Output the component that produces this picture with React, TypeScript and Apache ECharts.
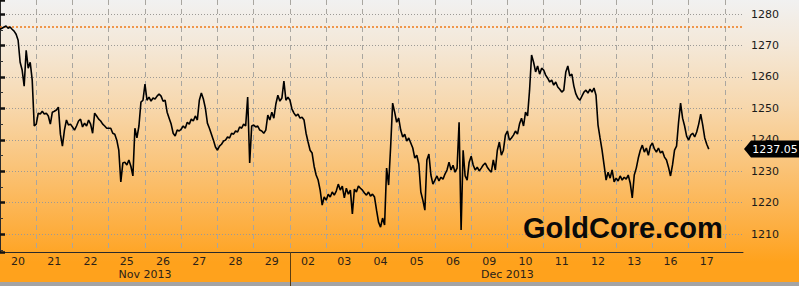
import React, { useEffect, useRef } from 'react';
import * as echarts from 'echarts';

// Trading-day labels along the time axis
const dayLabels = ['20', '21', '22', '25', '26', '27', '28', '29', '02', '03', '04', '05', '06', '09', '10', '11', '12', '13', '16', '17'];
const monthLabels = ['Nov 2013', 'Dec 2013'];
const monthStartDay = [0, 8];
const monthEndDay = [8, 20];

// Gold spot price, 18 samples per trading day
const samplesPerDay = 18;
const prices = [
  // 20 Nov
  1275.2, 1275.5, 1275.9, 1276.2, 1275.5, 1275.9, 1275.2, 1274.6, 1273.6, 1271.7, 1264.7, 1262.2, 1257.1, 1268.5, 1262.8, 1264.7, 1259.0, 1244.4,
  // 21 Nov
  1245.0, 1248.5, 1248.2, 1249.1, 1248.2, 1248.5, 1247.6, 1245.0, 1248.8, 1249.1, 1249.5, 1250.4, 1241.8, 1238.0, 1243.1, 1246.3, 1244.7, 1245.0,
  // 22 Nov
  1244.1, 1243.1, 1244.4, 1246.0, 1246.6, 1244.1, 1245.3, 1244.4, 1246.3, 1245.0, 1242.1, 1248.5, 1247.6, 1246.6, 1246.0, 1245.0, 1244.4, 1243.7,
  // 25 Nov
  1243.7, 1243.7, 1242.1, 1241.8, 1239.9, 1236.7, 1226.6, 1232.6, 1232.9, 1232.0, 1233.6, 1231.6, 1228.5, 1243.7, 1240.6, 1244.4, 1252.0, 1252.6,
  // 26 Nov
  1257.7, 1252.6, 1253.6, 1252.3, 1253.3, 1253.0, 1253.9, 1254.6, 1253.9, 1252.3, 1252.6, 1248.8, 1246.9, 1245.0, 1242.1, 1241.2, 1243.1, 1242.8,
  // 27 Nov
  1243.4, 1244.4, 1243.7, 1245.6, 1245.0, 1246.6, 1246.0, 1247.6, 1246.3, 1252.6, 1254.9, 1253.0, 1250.1, 1245.3, 1243.7, 1241.8, 1239.9, 1237.7,
  // 28 Nov
  1236.7, 1238.0, 1238.6, 1239.6, 1239.9, 1240.9, 1240.6, 1242.1, 1241.8, 1242.8, 1242.5, 1244.1, 1243.7, 1245.0, 1244.4, 1253.6, 1232.6, 1244.4,
  // 29 Nov
  1244.7, 1244.1, 1244.4, 1243.1, 1242.8, 1242.1, 1243.1, 1247.9, 1246.3, 1248.8, 1246.9, 1251.4, 1254.2, 1252.3, 1253.3, 1258.7, 1252.6, 1253.6,
  // 02 Dec
  1252.6, 1249.8, 1248.5, 1247.6, 1248.2, 1246.9, 1247.2, 1246.3, 1242.1, 1239.3, 1236.7, 1235.8, 1231.6, 1228.8, 1227.2, 1224.0, 1219.2, 1221.8,
  // 03 Dec
  1220.8, 1222.7, 1221.8, 1223.4, 1222.4, 1223.7, 1225.9, 1224.0, 1225.3, 1221.5, 1224.6, 1222.7, 1224.0, 1216.4, 1224.3, 1223.4, 1225.3, 1224.6,
  // 04 Dec
  1224.0, 1223.1, 1222.4, 1223.4, 1222.1, 1222.7, 1221.8, 1217.6, 1213.8, 1212.2, 1215.1, 1212.9, 1231.0, 1225.6, 1237.7, 1251.7, 1248.8, 1245.6,
  // 05 Dec
  1246.9, 1243.1, 1240.9, 1241.8, 1239.6, 1240.6, 1239.0, 1237.4, 1234.2, 1235.1, 1232.3, 1223.4, 1220.8, 1217.6, 1233.6, 1235.5, 1228.8, 1225.9,
  // 06 Dec
  1227.2, 1228.5, 1226.9, 1228.1, 1227.5, 1229.1, 1230.4, 1232.9, 1230.4, 1231.9, 1229.7, 1231.0, 1245.6, 1211.3, 1236.7, 1228.5, 1227.2, 1232.9,
  // 09 Dec
  1234.8, 1232.0, 1230.4, 1231.3, 1230.1, 1231.0, 1232.0, 1232.6, 1231.3, 1230.4, 1229.7, 1233.6, 1230.4, 1236.7, 1239.3, 1235.1, 1236.7, 1241.5,
  // 10 Dec
  1242.8, 1239.9, 1240.6, 1241.5, 1242.8, 1241.8, 1245.0, 1246.9, 1244.4, 1248.8, 1247.6, 1255.8, 1267.0, 1264.7, 1261.6, 1263.5, 1260.9, 1262.8,
  // 11 Dec
  1262.2, 1260.6, 1259.6, 1258.4, 1259.0, 1257.4, 1258.4, 1256.8, 1256.1, 1255.2, 1255.8, 1261.6, 1263.5, 1260.3, 1260.9, 1257.1, 1254.6, 1253.3,
  // 12 Dec
  1252.6, 1253.9, 1255.2, 1255.8, 1254.9, 1256.1, 1255.2, 1256.5, 1254.2, 1244.7, 1240.6, 1236.7, 1232.0, 1227.2, 1229.7, 1227.8, 1230.4, 1226.6,
  // 13 Dec
  1227.8, 1226.9, 1228.5, 1227.2, 1228.1, 1227.5, 1228.8, 1226.2, 1221.5, 1228.8, 1231.0, 1234.2, 1236.7, 1238.3, 1236.1, 1237.4, 1235.1, 1238.0,
  // 16 Dec
  1239.0, 1237.1, 1236.1, 1237.4, 1235.8, 1236.4, 1234.5, 1233.6, 1231.3, 1228.5, 1232.0, 1236.7, 1238.0, 1245.6, 1251.7, 1246.9, 1244.4, 1241.2,
  // 17 Dec
  1239.9, 1241.5, 1242.1, 1240.9, 1242.5, 1245.0, 1248.2, 1244.7, 1240.6, 1238.6, 1237.05,
];

const referenceLevel = 1276;
const yMin = 1204.3;
const yMax = 1284.5;
const xMaxDays = 20.5;

const FONT = '"DejaVu Sans", Verdana, sans-serif';

export default function App() {
  const ref = useRef<HTMLDivElement>(null);

  useEffect(() => {
    const chart = echarts.init(ref.current!, null, { renderer: 'svg' });
    const slots = Math.round(xMaxDays * 2) + 1; // half-day slots
    const slotCats = Array.from({ length: slots }, (_, k) => String(k));
    const dayLabelAt = (k: number) => (k % 2 === 1 && (k - 1) / 2 < dayLabels.length ? dayLabels[(k - 1) / 2] : '');
    const monthLabelAt = (k: number) => {
      const m = monthLabels.findIndex((_, j) => monthStartDay[j] + monthEndDay[j] === k);
      return m >= 0 ? monthLabels[m] : '';
    };
    const separatorSlot = monthStartDay[1] * 2;
    const lastPrice = prices[prices.length - 1];

    const option: any = {
      animation: false,
      backgroundColor: 'transparent',
      grid: { left: 0, right: 56, top: 0, bottom: 34, containLabel: false, outerBoundsMode: 'none' },
      xAxis: [
        {
          type: 'value',
          min: 0,
          max: xMaxDays,
          interval: 1,
          axisLine: { show: true, lineStyle: { color: '#2a2a2a', width: 1 } },
          axisTick: { show: false },
          axisLabel: { show: false },
          splitLine: {
            show: true,
            showMinLine: false,
            showMaxLine: false,
            lineStyle: { color: '#a9a6a0', width: 1, type: [5, 4] },
          },
        },
        {
          type: 'category',
          data: slotCats,
          boundaryGap: false,
          position: 'bottom',
          axisLine: { show: false },
          axisTick: {
            show: true,
            interval: (index: number) => index === separatorSlot,
            length: 34,
            inside: false,
            lineStyle: { color: '#5a3c10', width: 1 },
          },
          axisLabel: {
            show: true,
            interval: 0,
            margin: 4,
            formatter: (v: string) => dayLabelAt(Number(v)),
            color: '#2a2118',
            fontSize: 11,
            fontFamily: FONT,
          },
          splitLine: { show: false },
        },
        {
          type: 'category',
          data: slotCats,
          boundaryGap: false,
          position: 'bottom',
          offset: 13,
          axisLine: { show: false },
          axisTick: { show: false },
          axisLabel: {
            show: true,
            interval: 0,
            margin: 4,
            formatter: (v: string) => monthLabelAt(Number(v)),
            color: '#2a2118',
            fontSize: 11,
            fontFamily: FONT,
          },
          splitLine: { show: false },
        },
      ],
      yAxis: {
        type: 'value',
        position: 'right',
        min: yMin,
        max: yMax,
        splitNumber: 8,
        axisLine: { show: true, lineStyle: { color: '#2a2a2a', width: 1 } },
        axisTick: { show: true, length: 5, lineStyle: { color: '#111', width: 2.5 } },
        minorTick: { show: true, splitNumber: 2, length: 3, lineStyle: { color: '#333', width: 1 } },
        axisLabel: {
          margin: 8,
          showMinLabel: false,
          showMaxLabel: false,
          formatter: (v: number) => String(v),
          color: '#1a1a1a',
          fontSize: 11,
          fontFamily: FONT,
        },
        splitLine: {
          show: true,
          showMinLine: false,
          showMaxLine: false,
          lineStyle: { color: '#9c9a96', width: 1, type: [1, 2] },
        },
      },
      graphic: [
        {
          type: 'text',
          z: 10,
          silent: true,
          style: {
            text: 'GoldCore.com',
            x: 523,
            y: 228,
            align: 'left',
            verticalAlign: 'middle',
            font: 'bold 29px "Liberation Sans", Arial, sans-serif',
            fill: '#0a0a0a',
          },
        },
      ],
      series: [
        {
          type: 'line',
          xAxisIndex: 0,
          yAxisIndex: 0,
          data: prices.map((p, i) => [i / samplesPerDay, p]),
          showSymbol: false,
          symbol: 'none',
          lineStyle: { color: '#000', width: 1.6 },
          z: 5,
          markLine: {
            silent: true,
            symbol: ['none', 'none'],
            label: { show: false },
            lineStyle: { color: '#f07a18', width: 1.5, type: [2, 2] },
            data: [{ yAxis: referenceLevel }],
          },
          markPoint: {
            silent: true,
            symbol: 'path://M0,9L8,0L64,0L64,18L8,18Z',
            symbolSize: [56, 17],
            symbolOffset: [29, 0],
            itemStyle: { color: '#000' },
            label: {
              show: true,
              position: 'inside',
              offset: [3, 0],
              color: '#fff',
              fontSize: 11,
              fontFamily: FONT,
              formatter: () => lastPrice.toFixed(2),
            },
            data: [{ coord: [xMaxDays, lastPrice], value: lastPrice }],
          },
        },
      ],
    };

    chart.setOption(option);
    return () => chart.dispose();
  }, []);

  return (
    <div
      ref={ref}
      style={{
        position: 'absolute',
        left: 0,
        top: 0,
        width: 799,
        height: 286,
        background:
          'linear-gradient(to bottom, #f1f1f1 0px, #f4e8d8 45px, #f7d8ae 105px, #fac47a 165px, #fdae40 228px, #ffa21c 262px, #ffa21c 282px, #a4a4a4 282px, #a4a4a4 286px)',
      }}
    />
  );
}
